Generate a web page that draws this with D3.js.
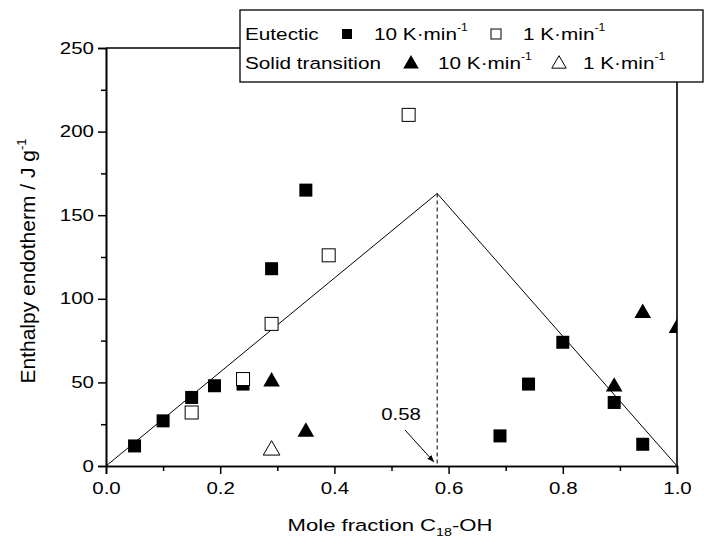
<!DOCTYPE html>
<html>
<head>
<meta charset="utf-8">
<script src="https://cdn.jsdelivr.net/npm/d3@7"></script>
<style>
  body { margin: 0; background: #fff; }
  text { font-family: "Liberation Sans", Arial, sans-serif; fill: #000; }
</style>
</head>
<body>
<div class="chart"></div>
<script>
// eutectic, 10 K/min (filled squares)
var eutectic10 = [
  [0.05, 12], [0.10, 27], [0.15, 41], [0.19, 48], [0.24, 49],
  [0.29, 118], [0.35, 165], [0.69, 18], [0.74, 49], [0.80, 74],
  [0.89, 38], [0.94, 13]
];
// eutectic, 1 K/min (open squares)
var eutectic1 = [
  [0.15, 32], [0.24, 52], [0.29, 85], [0.39, 126], [0.53, 210]
];
// solid transition, 10 K/min (filled triangles)
var solid10 = [
  [0.29, 51], [0.35, 21], [0.89, 48], [0.94, 92], [1.0, 83]
];
// solid transition, 1 K/min (open triangles)
var solid1 = [
  [0.29, 10]
];
// tammann triangle
var tammann = [[0, 0], [0.58, 163], [1.0, 0]];
var eutecticX = 0.58;

var xTicks = [0, 0.2, 0.4, 0.6, 0.8, 1.0];
var yTicks = [0, 50, 100, 150, 200, 250];

var W = 704, H = 544;
var mLeft = 106, mRight = 677, mTop = 48, mBottom = 466;
var stretch = 1.28;

var x = d3.scaleLinear().domain([0, 1]).range([mLeft, mRight]);
var y = d3.scaleLinear().domain([0, 250]).range([mBottom, mTop]);

var svg = d3.select(".chart").append("svg")
            .attr("width", W)
            .attr("height", H);

var defs = svg.append("defs");
defs.append("clipPath").attr("id", "plot")
    .append("rect")
    .attr("x", mLeft).attr("y", mTop)
    .attr("width", mRight - mLeft).attr("height", mBottom - mTop);

// horizontal text, slightly widened like the original
function wideText(parent, px, py, size, sx, anchor) {
  return parent.append("g")
               .attr("transform", "translate(" + px + "," + py + ")")
               .append("text")
               .attr("transform", "scale(" + sx + ",1)")
               .attr("text-anchor", anchor || "start")
               .style("font-size", size + "px");
}

/**
 * Axes
 */
var xAxis = d3.axisBottom(x).tickValues(xTicks).tickSizeOuter(0)
              .tickSize(8).tickPadding(5).tickFormat(d3.format(".1f"));
var xMinor = d3.axisBottom(x).tickValues(d3.range(0.1, 1, 0.2)).tickSize(5)
               .tickSizeOuter(0).tickFormat("");
var yAxis = d3.axisLeft(y).tickValues(yTicks).tickSizeOuter(0)
              .tickSize(8).tickPadding(4);
var yMinor = d3.axisLeft(y).tickValues(d3.range(25, 250, 50)).tickSize(5)
               .tickSizeOuter(0).tickFormat("");

function styleAxis(g) {
  g.select(".domain").attr("stroke-width", 1.6);
  g.selectAll(".tick line").attr("stroke-width", 1.5);
  g.selectAll("text").style("font-size", "16px")
   .style("font-family", "'Liberation Sans', Arial, sans-serif")
   .attr("transform", "scale(" + stretch + ",1)");
}

svg.append("g").attr("transform", "translate(0," + mBottom + ")").call(xMinor).call(styleAxis);
svg.append("g").attr("transform", "translate(0," + mBottom + ")").call(xAxis).call(styleAxis)
   .selectAll(".tick text").attr("dy", "0.95em");
svg.append("g").attr("transform", "translate(" + mLeft + ",0)").call(yMinor).call(styleAxis);
svg.append("g").attr("transform", "translate(" + mLeft + ",0)").call(yAxis).call(styleAxis)
   .selectAll(".tick text").attr("x", -12 / stretch);

// top and right frame lines
svg.append("line").attr("x1", mLeft).attr("x2", 240).attr("y1", mTop).attr("y2", mTop)
   .attr("stroke", "#000").attr("stroke-width", 1.6);
svg.append("line").attr("x1", mRight).attr("x2", mRight).attr("y1", 82).attr("y2", mBottom)
   .attr("stroke", "#000").attr("stroke-width", 1.6);

/**
 * Lines
 */
var plot = svg.append("g").attr("clip-path", "url(#plot)");

plot.append("path")
    .datum(tammann)
    .attr("d", d3.line().x(function(d) { return x(d[0]); }).y(function(d) { return y(d[1]); }))
    .attr("fill", "none")
    .attr("stroke", "#000")
    .attr("stroke-width", 1);

plot.append("line")
    .attr("x1", x(eutecticX)).attr("x2", x(eutecticX))
    .attr("y1", y(tammann[1][1])).attr("y2", y(0))
    .attr("stroke", "#000")
    .attr("stroke-dasharray", "4,3")
    .attr("stroke-width", 1);

/**
 * Markers
 */
var sq = 13;
function squares(data, filled) {
  plot.append("g").selectAll("rect")
      .data(data).enter().append("rect")
      .attr("x", function(d) { return x(d[0]) - sq / 2; })
      .attr("y", function(d) { return y(d[1]) - sq / 2; })
      .attr("width", sq).attr("height", sq)
      .attr("fill", filled ? "#000" : "#fff")
      .attr("stroke", "#000")
      .attr("stroke-width", filled ? 0 : 1);
}
var tri = d3.symbol().type(d3.symbolTriangle).size(120);
function triangles(data, filled) {
  plot.append("g").selectAll("path")
      .data(data).enter().append("path")
      .attr("transform", function(d) { return "translate(" + x(d[0]) + "," + (y(d[1]) + 1) + ")"; })
      .attr("d", tri)
      .attr("fill", filled ? "#000" : "#fff")
      .attr("stroke", "#000")
      .attr("stroke-width", filled ? 0 : 1);
}
squares(eutectic10, true);
squares(eutectic1, false);
triangles(solid10, true);
triangles(solid1, false);

/**
 * Annotation 0.58
 */
wideText(svg, 401, 420, 17, 1.2, "middle").text("0.58");
defs.append("marker").attr("id", "arr")
    .attr("viewBox", "0 0 10 10").attr("refX", 10).attr("refY", 5)
    .attr("markerWidth", 7).attr("markerHeight", 7).attr("orient", "auto")
    .append("path").attr("d", "M0,1 L10,5 L0,9 Z").attr("fill", "#000");
svg.append("line").attr("x1", 405).attr("y1", 430).attr("x2", 434).attr("y2", 462)
   .attr("stroke", "#000").attr("stroke-width", 1).attr("marker-end", "url(#arr)");

/**
 * Axis titles
 */
var xt = wideText(svg, 390, 531, 17, 1.3, "middle");
xt.append("tspan").text("Mole fraction C");
xt.append("tspan").attr("dy", 5).style("font-size", "11px").text("18");
xt.append("tspan").attr("dy", -5).text("-OH");

var yt = svg.append("text")
            .attr("transform", "translate(35,261) rotate(-90)")
            .attr("text-anchor", "middle").style("font-size", "21px");
yt.append("tspan").text("Enthalpy endotherm / J g");
yt.append("tspan").attr("dy", -9).style("font-size", "13px").text("-1");

/**
 * Legend
 */
var lg = svg.append("g");
lg.append("rect").attr("x", 240).attr("y", 10).attr("width", 463).attr("height", 72)
  .attr("fill", "#fff").attr("stroke", "#000").attr("stroke-width", 1.3);

var legendRows = [
  { label: "Eutectic", y: 40, fast: 347, fastText: 374, slow: 496, slowText: 523, shape: "square" },
  { label: "Solid transition", y: 69, fast: 411, fastText: 438, slow: 559, slowText: 583, shape: "triangle" }
];
legendRows.forEach(function(r) {
  wideText(lg, 245, r.y, 17, 1.22).text(r.label);
  [[r.fast, true], [r.slow, false]].forEach(function(m) {
    if (r.shape === "square") {
      var s = 10;
      lg.append("rect").attr("x", m[0] - s / 2).attr("y", r.y - 6 - s / 2)
        .attr("width", s).attr("height", s)
        .attr("fill", m[1] ? "#000" : "#fff").attr("stroke", "#000")
        .attr("stroke-width", m[1] ? 0 : 1);
    } else {
      lg.append("path").attr("transform", "translate(" + m[0] + "," + (r.y - 5) + ")")
        .attr("d", d3.symbol().type(d3.symbolTriangle).size(m[1] ? 105 : 90))
        .attr("fill", m[1] ? "#000" : "#fff").attr("stroke", "#000")
        .attr("stroke-width", m[1] ? 0 : 1);
    }
  });
  [[r.fastText, "10 K\u00b7min"], [r.slowText, "1 K\u00b7min"]].forEach(function(t) {
    var tx = wideText(lg, t[0], r.y, 17, 1.22);
    tx.append("tspan").text(t[1]);
    tx.append("tspan").attr("dy", -9).style("font-size", "10px").text("-1");
  });
});
</script>
</body>
</html>
